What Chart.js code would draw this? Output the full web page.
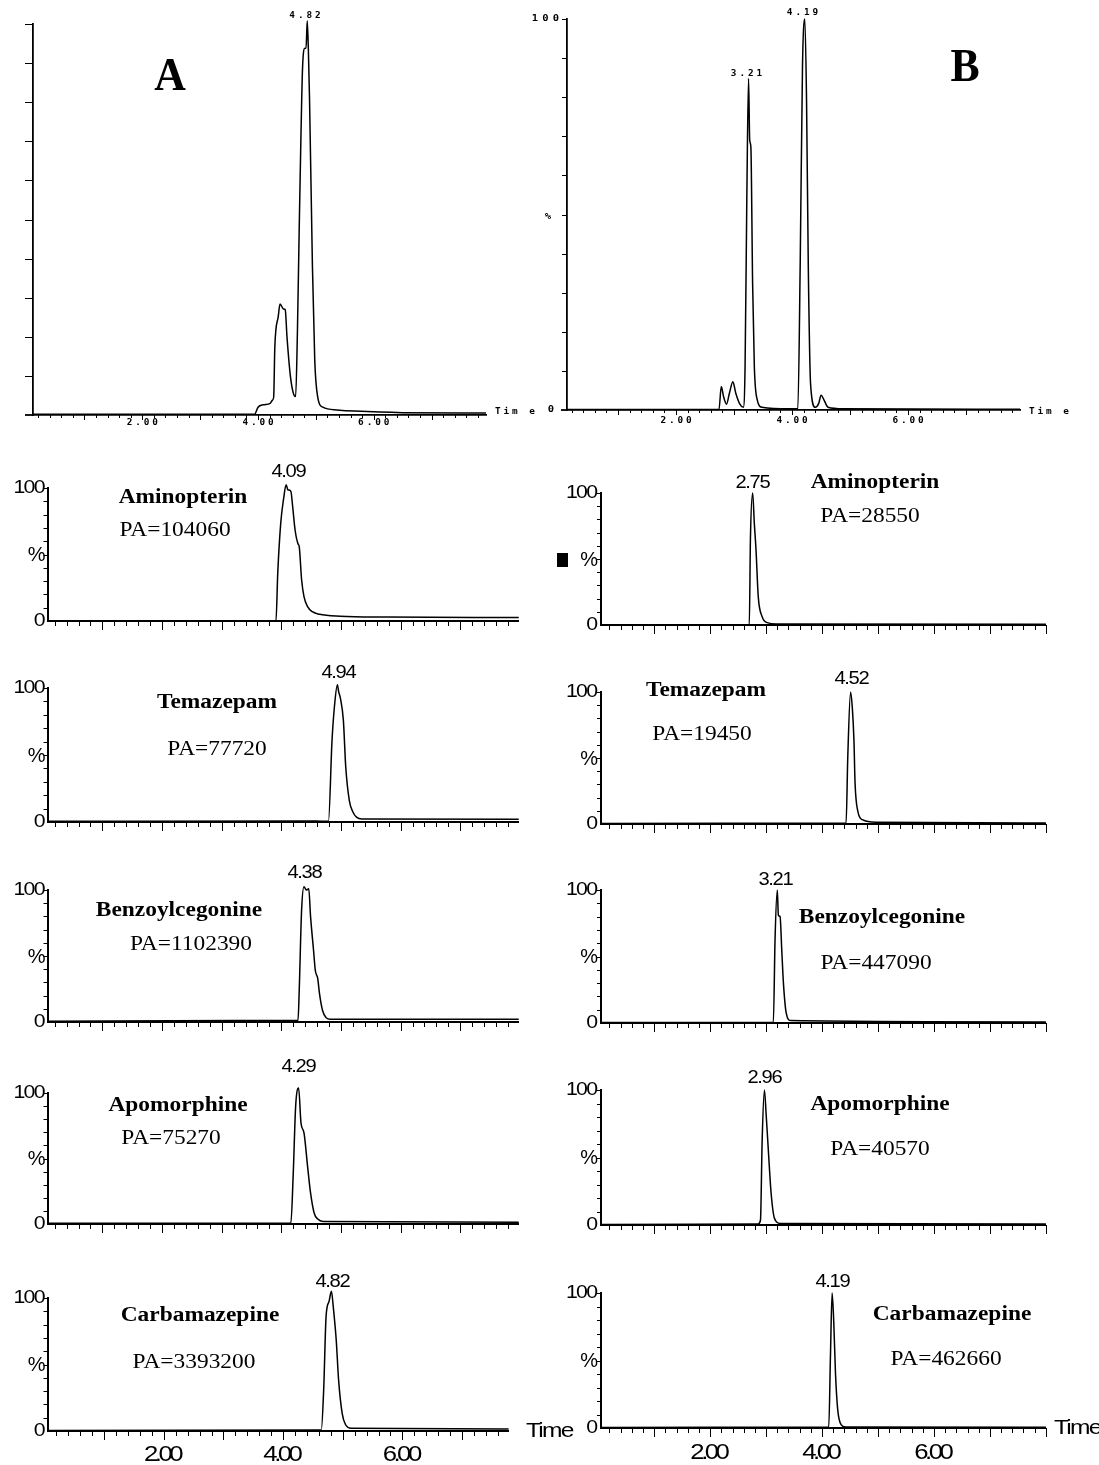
<!DOCTYPE html>
<html><head><meta charset="utf-8">
<script src="https://cdn.jsdelivr.net/npm/chart.js@4.4.1/dist/chart.umd.min.js"></script>
<style>
html,body{margin:0;padding:0;background:#fff}
#wrap{position:relative;width:1099px;height:1465px;overflow:hidden;background:#fff}
canvas{position:absolute}
</style></head><body><div id="wrap"></div>
<script>
// ================= DATA =================
const X_LABEL_VALUES = [2, 4, 6];
const X_LABELS = ['2.00', '4.00', '6.00'];
const Y_LABELS = ['100', '%', '0'];
const COMPOUNDS = ['Aminopterin', 'Temazepam', 'Benzoylcegonine', 'Apomorphine', 'Carbamazepine'];
const PA_A = ['PA=104060', 'PA=77720', 'PA=1102390', 'PA=75270', 'PA=3393200'];
const PA_B = ['PA=28550', 'PA=19450', 'PA=447090', 'PA=40570', 'PA=462660'];
const RT_A = ['4.09', '4.94', '4.38', '4.29', '4.82'];
const RT_B = ['2.75', '4.52', '3.21', '2.96', '4.19'];
const TIC_A_PEAKS = ['4.82'];
const TIC_B_PEAKS = ['3.21', '4.19'];

// Total ion chromatogram A
const ticA_time = [0.11,1.0,2.0,3.0,3.94,4.00,4.09,4.21,4.25,4.27,4.29,4.35,4.38,4.44,4.47,4.50,4.56,4.62,4.65,4.68,4.71,4.74,4.77,4.81,4.83,4.85,4.87,4.89,4.94,4.98,5.03,5.12,5.36,5.67,6.5,7.94];
const ticA_int  = [0.2,0.2,0.2,0.2,0.2,2.0,2.6,3.0,3.8,4.6,17.4,25.3,28.4,27.1,26.9,20.0,9.8,5.1,4.7,20.9,46.5,70.3,89.1,93.8,93.8,100.8,93.3,80.6,38.0,14.0,4.7,2.0,1.3,1.0,0.6,0.5];
// Total ion chromatogram B
const ticB_time = [0.12,2.74,2.78,2.82,2.87,2.92,2.98,3.03,3.10,3.16,3.19,3.22,3.25,3.27,3.29,3.32,3.35,3.40,3.48,3.97,4.10,4.14,4.18,4.22,4.25,4.28,4.32,4.40,4.46,4.50,4.55,4.62,4.89,7.93];
const ticB_int  = [0.1,0.1,6.0,3.4,1.5,4.3,7.2,4.3,1.5,0.7,11,53.7,84.8,69,67.3,32.4,11,2.6,0.7,0.3,0.3,36.7,87.8,100,79,36.7,6.5,0.7,1.7,3.8,2.6,0.7,0.3,0.2];

// Column A extracted ion chromatograms
const aminoA_time = [0.08,3.91,3.94,3.99,4.04,4.08,4.11,4.16,4.19,4.23,4.28,4.30,4.34,4.38,4.44,4.52,4.64,4.99,5.76,7.98];
const aminoA_int  = [0,0,36,73.6,92.5,102.5,98.7,97.5,86,68.6,58,56,31,18.3,10.8,7,5.0,3.6,3.0,2.6];
const temaA_time = [0.08,4.58,4.79,4.85,4.89,4.94,4.96,4.99,5.04,5.08,5.14,5.20,5.26,5.35,7.98];
const temaA_int  = [0.5,0.8,0.5,61,86,102.5,97.5,92.5,76,41,16,7.5,3.6,2.2,2.0];
const benzoA_time = [0.08,4.28,4.30,4.34,4.38,4.42,4.46,4.49,4.54,4.57,4.61,4.64,4.69,4.75,4.82,7.98];
const benzoA_int  = [0.5,1.3,24,85,102.5,100,101,80,54.4,39,33,21.5,8.9,3.3,2,2.0];
const apoA_time = [0.08,4.16,4.20,4.24,4.29,4.33,4.38,4.44,4.49,4.55,4.61,4.70,7.98];
const apoA_int  = [0.5,0.8,39,89.8,103.8,77,69.5,44,23.7,8.4,3.8,2,1.3];
const carbA_time = [0.05,4.64,4.68,4.72,4.77,4.81,4.84,4.89,4.93,4.99,5.05,5.14,7.78];
const carbA_int  = [0.3,0.8,31,86,97.5,105,93.7,68.6,38.4,13.3,4.5,2,1.5];

// Column B extracted ion chromatograms
const aminoB_time = [0.06,2.70,2.72,2.76,2.79,2.82,2.86,2.93,3.02,3.18,8.0];
const aminoB_int  = [0,0,64.6,100,77,57,21.5,6.3,1.8,0.8,0.5];
const temaB_time = [0.06,4.43,4.46,4.51,4.54,4.57,4.59,4.64,4.72,4.97,8.0];
const temaB_int  = [0.3,0.8,51,100,88.7,63.6,31,9.5,3.3,1.3,0.8];
const benzoB_time = [0.06,3.13,3.16,3.20,3.22,3.25,3.28,3.31,3.36,3.44,8.0];
const benzoB_int  = [0.3,0.5,62.5,100,81,80,55,30,7.5,1.8,0.8];
const apoB_time = [0.06,2.86,2.90,2.93,2.97,3.00,3.04,3.09,3.15,3.25,8.0];
const apoB_int  = [0.3,0.7,3.7,63,100,82.7,55.6,23.5,4.9,1.2,0.7];
const carbB_time = [0.05,4.12,4.15,4.18,4.21,4.24,4.28,4.34,4.42,8.0];
const carbB_int  = [0.3,0.7,53,100,77.8,40.7,13.6,2.5,0.7,0.5];

const SERIES_A = [[aminoA_time, aminoA_int],[temaA_time, temaA_int],[benzoA_time, benzoA_int],[apoA_time, apoA_int],[carbA_time, carbA_int]];
const SERIES_B = [[aminoB_time, aminoB_int],[temaB_time, temaB_int],[benzoB_time, benzoB_int],[apoB_time, apoB_int],[carbB_time, carbB_int]];

// ================= STYLE / LAYOUT =================
const FONTS = {
  name: {font: 'bold 20px "Liberation Serif"', sx: 1.17, ls: 0},
  pa:   {font: '20px "Liberation Serif"', sx: 1.17, ls: 0},
  rt:   {font: '18px "Liberation Sans"', sx: 1.12, ls: -1.2},
  ylab: {font: '19px "Liberation Sans"', sx: 1.12, ls: -1.6},
  pct:  {font: '20px "Liberation Sans"', sx: 1.0, ls: 0},
  xlab: {font: '22px "Liberation Sans"', sx: 1.17, ls: -3},
  time: {font: '21px "Liberation Sans"', sx: 1.17, ls: -1.5},
  big:  {font: 'bold 46px "Liberation Serif"', sx: 0.95, ls: 0},
  mono: {font: 'bold 8px "DejaVu Sans Mono"', sx: 1.17, ls: 2.5},
  mono9:{font: 'bold 9px "DejaVu Sans Mono"', sx: 1.17, ls: 3.5}
};

function drawText(ctx, s, x, y, key, align) {
  const f = FONTS[key];
  ctx.save();
  ctx.font = f.font;
  ctx.fillStyle = '#000';
  if ('letterSpacing' in ctx) ctx.letterSpacing = f.ls + 'px';
  ctx.textBaseline = 'middle';
  ctx.textAlign = 'left';
  let w = ctx.measureText(s).width;
  if (f.ls) w -= f.ls;
  w *= f.sx;
  const x0 = align === 'center' ? x - w / 2 : (align === 'right' ? x - w : x);
  ctx.translate(x0, y);
  ctx.scale(f.sx, 1);
  ctx.fillText(s, 0, 0);
  ctx.restore();
}

function makePanel(spec) {
  const [bx, by, bw, bh] = spec.box;
  const c = document.createElement('canvas');
  c.width = bw; c.height = bh;
  c.style.left = bx + 'px'; c.style.top = by + 'px';
  document.getElementById('wrap').appendChild(c);
  const [L, T, R, B] = spec.area;
  const decor = {
    id: 'decor',
    afterDraw(chart) {
      const ctx = chart.ctx, xs = chart.scales.x, ys = chart.scales.y, a = chart.chartArea;
      ctx.save();
      ctx.strokeStyle = '#000';
      ctx.lineWidth = 1;
      for (let k = Math.ceil(xs.min / 0.2 - 1e-6); k * 0.2 <= xs.max + 1e-9; k++) {
        const v = k * 0.2;
        const px = Math.round(xs.getPixelForValue(v)) + 0.5;
        const major = Math.abs(v - Math.round(v)) < 1e-6;
        ctx.beginPath();
        ctx.moveTo(px, a.bottom);
        ctx.lineTo(px, a.bottom + (major ? spec.majorLen : spec.minorLen));
        ctx.stroke();
      }
      for (let v = 10; v <= 100; v += 10) {
        const py = Math.round(ys.getPixelForValue(v)) + 0.5;
        ctx.beginPath();
        ctx.moveTo(a.left - spec.yTickLen, py);
        ctx.lineTo(a.left, py);
        ctx.stroke();
      }
      if (spec.extendX) {
        ctx.lineWidth = spec.axisW;
        ctx.beginPath();
        ctx.moveTo(a.left - spec.extendX, a.bottom);
        ctx.lineTo(a.left, a.bottom);
        ctx.stroke();
      }
      if (spec.square) {
        ctx.fillStyle = '#000';
        ctx.fillRect(spec.square[0] - bx, spec.square[1] - by, spec.square[2], spec.square[3]);
      }
      ctx.restore();
      if (spec.xLabelKey) {
        X_LABEL_VALUES.forEach((v, i) => {
          drawText(ctx, X_LABELS[i], xs.getPixelForValue(v), spec.xLabelY - by, spec.xLabelKey, 'center');
        });
      }
      (spec.texts || []).forEach(t => drawText(ctx, t[0], t[1] - bx, t[2] - by, t[3], t[4]));
    }
  };
  new Chart(c, {
    type: 'line',
    data: {
      datasets: [{
        data: spec.time.map((t, i) => ({x: t, y: spec.inten[i]})),
        borderColor: '#000',
        borderWidth: spec.lineW,
        pointRadius: 0,
        fill: false,
        cubicInterpolationMode: 'monotone',
        clip: false
      }]
    },
    options: {
      responsive: false,
      animation: false,
      events: [],
      layout: {padding: {left: L - bx, top: T - by, right: bx + bw - R, bottom: by + bh - B}},
      plugins: {legend: {display: false}, tooltip: {enabled: false}},
      scales: {
        x: {
          type: 'linear', min: spec.xr[0], max: spec.xr[1],
          afterFit: s => { s.height = 0; },
          ticks: {display: false},
          grid: {display: true, drawOnChartArea: false, drawTicks: false},
          border: {display: true, color: '#000', width: spec.axisW}
        },
        y: {
          type: 'linear', min: 0, max: 100,
          afterFit: s => { s.width = 0; },
          ticks: {display: false},
          grid: {display: true, drawOnChartArea: false, drawTicks: false},
          border: {display: true, color: '#000', width: spec.axisW}
        }
      }
    },
    plugins: [decor]
  });
}

// ---- top panels ----
makePanel({
  box: [0, 0, 540, 440], area: [33, 24, 486, 415], xr: [0.11, 7.94],
  time: ticA_time, inten: ticA_int, axisW: 1.8, lineW: 1.5,
  yTickLen: 8, minorLen: 3, majorLen: 5, extendX: 8,
  xLabelKey: 'mono', xLabelY: 423,
  texts: [
    ['A', 170, 78, 'big', 'center'],
    [TIC_A_PEAKS[0], 305, 16, 'mono', 'center'],
    ['Tim e', 495, 412, 'mono', 'left']
  ]
});
makePanel({
  box: [500, 0, 599, 440], area: [567, 19, 1020, 410], xr: [0.12, 7.93],
  time: ticB_time, inten: ticB_int, axisW: 1.8, lineW: 1.5,
  yTickLen: 5, minorLen: 3, majorLen: 5, extendX: 6,
  xLabelKey: 'mono', xLabelY: 421,
  texts: [
    ['B', 965, 69, 'big', 'center'],
    [TIC_B_PEAKS[0], 746.5, 74, 'mono', 'center'],
    [TIC_B_PEAKS[1], 802.5, 13, 'mono', 'center'],
    [Y_LABELS[0], 559, 19, 'mono9', 'right'],
    [Y_LABELS[1], 548, 217, 'mono9', 'center'],
    [Y_LABELS[2], 551, 410, 'mono9', 'center'],
    ['Tim e', 1029, 412, 'mono', 'left']
  ]
});

// ---- small panels ----
const ROWS_A = [[488, 621], [688, 822], [890, 1022], [1093, 1224], [1298, 1431]];
const ROWS_B = [[493, 625], [692, 824], [890, 1023], [1090, 1225], [1293, 1428]];
const RT_POS_A = [[289, 472], [339, 673], [305, 873], [299, 1067], [333, 1282]];
const RT_POS_B = [[753, 483], [852, 679], [776, 880], [765, 1078], [833, 1282]];
const NAME_POS_A = [[183, 498], [217, 703], [179, 911], [178, 1106], [200, 1316]];
const PA_POS_A = [[175, 531], [217, 750], [191, 945], [171, 1139], [194, 1363]];
const NAME_POS_B = [[875, 483], [706, 691], [882, 918], [880, 1105], [952, 1315]];
const PA_POS_B = [[870, 517], [702, 735], [876, 964], [880, 1150], [946, 1360]];

for (let i = 0; i < 5; i++) {
  const last = i === 4;
  {
    const [T, B] = ROWS_A[i];
    const xmin = last ? 0.05 : 0.08, xmax = last ? 7.78 : 7.98;
    const L = 47.5, R = L + (xmax - xmin) * 59.65;
    const texts = [
      [RT_A[i], RT_POS_A[i][0], RT_POS_A[i][1], 'rt', 'center'],
      [COMPOUNDS[i], NAME_POS_A[i][0], NAME_POS_A[i][1], 'name', 'center'],
      [PA_A[i], PA_POS_A[i][0], PA_POS_A[i][1], 'pa', 'center'],
      [Y_LABELS[0], L - 2, T, 'ylab', 'right'],
      [Y_LABELS[1], L - 2, T + 0.51 * (B - T), 'pct', 'right'],
      [Y_LABELS[2], L - 2, B, 'ylab', 'right']
    ];
    if (last) texts.push(['Time', 526, 1431, 'time', 'left']);
    makePanel({
      box: [0, T - 65, 580, (B - T) + 65 + 45], area: [L, T, R, B], xr: [xmin, xmax],
      time: SERIES_A[i][0], inten: SERIES_A[i][1], axisW: 2, lineW: 1.5,
      yTickLen: 4, minorLen: 5, majorLen: 9,
      xLabelKey: last ? 'xlab' : null, xLabelY: 1455,
      texts
    });
  }
  {
    const [T, B] = ROWS_B[i];
    const xmin = 0.05, xmax = 8.0;
    const L = 601, R = L + (xmax - xmin) * 55.96;
    const texts = [
      [RT_B[i], RT_POS_B[i][0], RT_POS_B[i][1], 'rt', 'center'],
      [COMPOUNDS[i], NAME_POS_B[i][0], NAME_POS_B[i][1], 'name', 'center'],
      [PA_B[i], PA_POS_B[i][0], PA_POS_B[i][1], 'pa', 'center'],
      [Y_LABELS[0], L - 3, T, 'ylab', 'right'],
      [Y_LABELS[1], L - 3, T + 0.51 * (B - T), 'pct', 'right'],
      [Y_LABELS[2], L - 3, B, 'ylab', 'right']
    ];
    if (last) texts.push(['Time', 1054, 1428, 'time', 'left']);
    makePanel({
      box: [540, T - 65, 559, (B - T) + 65 + 45], area: [L, T, R, B], xr: [xmin, xmax],
      time: SERIES_B[i][0], inten: SERIES_B[i][1], axisW: 2, lineW: 1.5,
      yTickLen: 4, minorLen: 5, majorLen: 9,
      xLabelKey: last ? 'xlab' : null, xLabelY: 1453,
      square: i === 0 ? [557, 553, 11, 14] : null,
      texts
    });
  }
}
</script>
</body></html>
